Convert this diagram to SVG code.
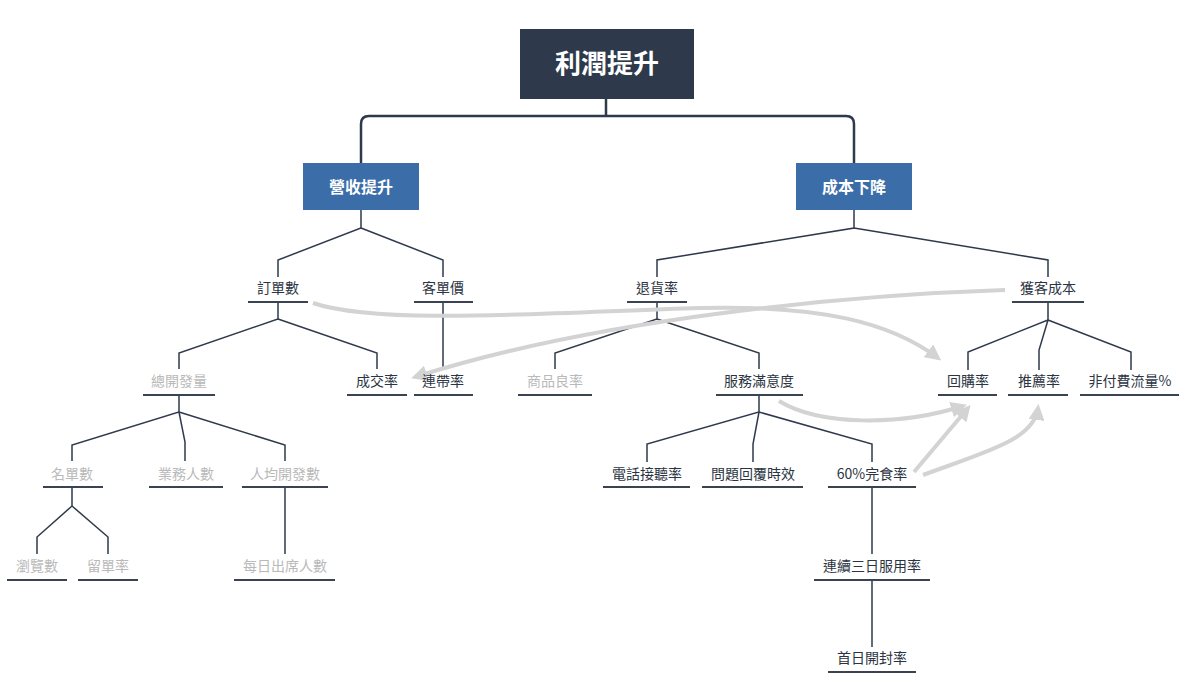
<svg xmlns="http://www.w3.org/2000/svg" width="1200" height="686" viewBox="0 0 1200 686">
<style>
text{font-family:"Noto Sans CJK TC","Noto Sans",sans-serif;text-anchor:middle}
.lbl{font-size:14px;fill:#2b3442}
.dim{font-size:14px;fill:#b9b9b9}
.ul{stroke:#3a4352;stroke-width:2;fill:none}
.tree{stroke:#2e3a4b;stroke-width:1.5;fill:none}
.trunk{stroke:#2e3a4b;stroke-width:2.5;fill:none}
.rel{stroke:#d3d3d3;stroke-width:4;fill:none;marker-end:url(#ah)}
</style>
<defs>
<marker id="ah" viewBox="0 0 10 10" refX="7.5" refY="5" markerWidth="16" markerHeight="16" markerUnits="userSpaceOnUse" orient="auto">
<path d="M0,0 L10,5 L0,10 Z" fill="#d3d3d3"/>
</marker>
</defs>
<rect width="1200" height="686" fill="#ffffff"/>
<g id="connectors">
<path class="trunk" d="M606,99 V116 M361,163 V124 Q361,116 369,116 H846 Q854,116 854,124 V163"/>
<path class="tree" d="M361,210 V228 L278,260 V277 M361,228 L443,260 V277"/>
<path class="tree" d="M854,210 V228 L657,260 V277 M854,228 L1048,260 V277"/>
<path class="tree" d="M278,302 V319 L179,353 V369 M278,319 L377,353 V369"/>
<path class="tree" d="M443,302 V370"/>
<path class="tree" d="M657,302 V319 L555,353 V369 M657,319 L759,353 V369"/>
<path class="tree" d="M1048,302 V320 L968,352 V370 M1048,320 L1039,350 V370 M1048,320 L1131,352 V370"/>
<path class="tree" d="M179,395 V412 L72,445 V461 M179,412 L185,442 V461 M179,412 L285,445 V461"/>
<path class="tree" d="M759,395 V412 L647,444 V462 M759,412 L753,444 V462 M759,412 L872,444 V462"/>
<path class="tree" d="M72,487 V506 L37,537 V554 M72,506 L108,537 V554"/>
<path class="tree" d="M285,487 V554"/>
<path class="tree" d="M872,487 V554"/>
<path class="tree" d="M872,580 V647"/>
<path class="rel" d="M313,303 C380,326 560,312 700,308 C820,305 890,322 938,358"/>
<path class="rel" d="M1005,290 C850,295 600,318 415,377"/>
<path class="rel" d="M779,401 C820,426 900,426 963,406"/>
<path class="rel" d="M914,472 L968,408"/>
<path class="rel" d="M923,475 C985,452 1034,440 1038,408"/>
</g>
<g id="n-root"><rect x="520" y="29" width="174" height="70" fill="#2e3a4b"/><text x="607" y="73" font-size="26" font-weight="bold" fill="#ffffff">利潤提升</text></g>
<g id="n-revenue"><rect x="303" y="163" width="116" height="47" fill="#3b6ea8"/><text x="361" y="193" font-size="16" font-weight="bold" fill="#ffffff">營收提升</text></g>
<g id="n-cost"><rect x="796" y="163" width="116" height="47" fill="#3b6ea8"/><text x="854" y="193" font-size="16" font-weight="bold" fill="#ffffff">成本下降</text></g>
<g id="n-orders"><text class="lbl" x="278" y="293">訂單數</text><path class="ul" d="M248,302 H308"/></g>
<g id="n-aov"><text class="lbl" x="443" y="293">客單價</text><path class="ul" d="M414,302 H473"/></g>
<g id="n-return"><text class="lbl" x="657" y="293">退貨率</text><path class="ul" d="M627,302 H687"/></g>
<g id="n-cac"><text class="lbl" x="1048" y="293">獲客成本</text><path class="ul" d="M1012,302 H1084"/></g>
<g id="n-dev"><text class="dim" x="179" y="386">總開發量</text><path class="ul" d="M143,395 H215"/></g>
<g id="n-conv"><text class="lbl" x="377" y="386">成交率</text><path class="ul" d="M347,395 H407"/></g>
<g id="n-attach"><text class="lbl" x="443" y="386">連帶率</text><path class="ul" d="M414,395 H473"/></g>
<g id="n-quality"><text class="dim" x="555" y="386">商品良率</text><path class="ul" d="M518,395 H592"/></g>
<g id="n-satis"><text class="lbl" x="759" y="386">服務滿意度</text><path class="ul" d="M716,395 H803"/></g>
<g id="n-repurchase"><text class="lbl" x="968" y="386">回購率</text><path class="ul" d="M938,395 H997"/></g>
<g id="n-referral"><text class="lbl" x="1039" y="386">推薦率</text><path class="ul" d="M1008,395 H1068"/></g>
<g id="n-organic"><text class="lbl" x="1130" y="386">非付費流量%</text><path class="ul" d="M1080,395 H1179"/></g>
<g id="n-leads"><text class="dim" x="72" y="479">名單數</text><path class="ul" d="M43,487 H103"/></g>
<g id="n-sales"><text class="dim" x="186" y="479">業務人數</text><path class="ul" d="M149,487 H223"/></g>
<g id="n-perdev"><text class="dim" x="285" y="479">人均開發數</text><path class="ul" d="M242,487 H328"/></g>
<g id="n-phone"><text class="lbl" x="647" y="479">電話接聽率</text><path class="ul" d="M603,487 H690"/></g>
<g id="n-reply"><text class="lbl" x="753" y="479">問題回覆時效</text><path class="ul" d="M702,487 H803"/></g>
<g id="n-finish"><text class="lbl" x="872" y="479">60%完食率</text><path class="ul" d="M828,487 H916"/></g>
<g id="n-views"><text class="dim" x="37" y="571">瀏覽數</text><path class="ul" d="M7,580 H67"/></g>
<g id="n-leave"><text class="dim" x="108" y="571">留單率</text><path class="ul" d="M78,580 H138"/></g>
<g id="n-attend"><text class="dim" x="285" y="571">每日出席人數</text><path class="ul" d="M234,580 H335"/></g>
<g id="n-3day"><text class="lbl" x="872" y="571">連續三日服用率</text><path class="ul" d="M814,580 H930"/></g>
<g id="n-open"><text class="lbl" x="872" y="663">首日開封率</text><path class="ul" d="M828,672 H916"/></g>
</svg>
